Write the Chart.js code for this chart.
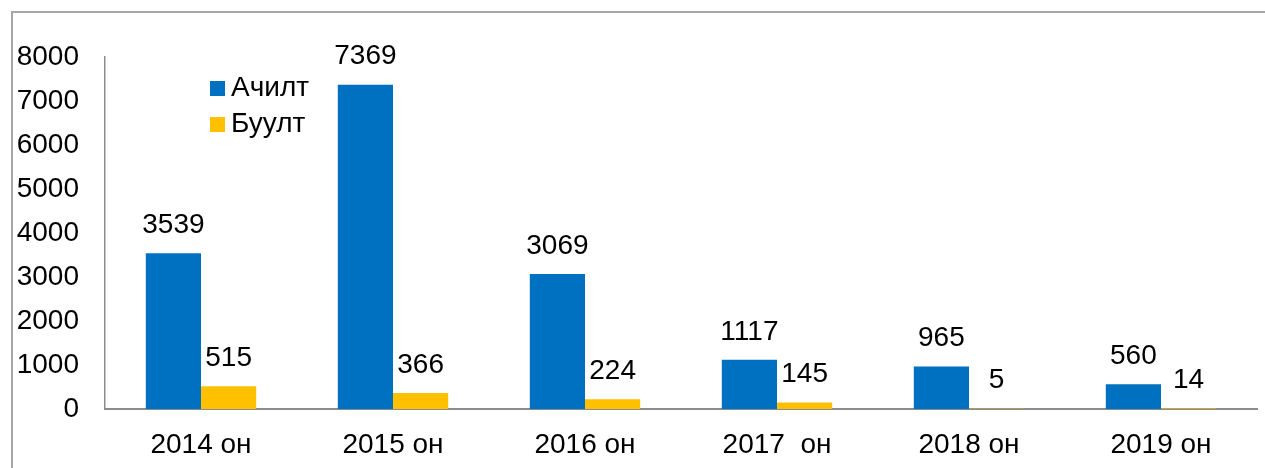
<!DOCTYPE html>
<html>
<head>
<meta charset="utf-8">
<script src="https://cdn.jsdelivr.net/npm/chart.js@4.4.0/dist/chart.umd.min.js"></script>
<style>
  html, body { margin: 0; padding: 0; background: #fff; }
  #wrap { width: 1265px; height: 468px; }
</style>
</head>
<body>
<div id="wrap"><canvas id="c" width="1265" height="468"></canvas></div>
<script>
const categories = ["2014 он", "2015 он", "2016 он", "2017  он", "2018 он", "2019 он"];
const achiltValues = [3539, 7369, 3069, 1117, 965, 560];
const buultValues = [515, 366, 224, 145, 5, 14];
const seriesNames = ["Ачилт", "Буулт"];
const seriesColors = ["#0070C0", "#FFC000"];

const FONT = "'Liberation Sans', Arial, sans-serif";
const FONT_SIZE = 28;
const AXIS_GREY = "#8c8c8c";

// frame around the whole chart
const framePlugin = {
  id: "frame",
  beforeDraw(chart) {
    const ctx = chart.ctx;
    ctx.save();
    ctx.strokeStyle = "#a6a6a6";
    ctx.lineWidth = 2;
    ctx.strokeRect(12, 12, 1300, 500);
    ctx.restore();
  },
};

// value labels above each bar
const valueLabels = {
  id: "valueLabels",
  afterDatasetsDraw(chart) {
    const ctx = chart.ctx;
    ctx.save();
    ctx.font = FONT_SIZE + "px " + FONT;
    ctx.fillStyle = "#000";
    ctx.textAlign = "center";
    ctx.textBaseline = "middle";
    chart.data.datasets.forEach((ds, i) => {
      chart.getDatasetMeta(i).data.forEach((bar, j) => {
        ctx.fillText(String(ds.data[j]), bar.x, bar.y - 28);
      });
    });
    ctx.restore();
  },
};

// legend inside the plot, upper left
const insideLegend = {
  id: "insideLegend",
  afterDraw(chart) {
    const ctx = chart.ctx;
    ctx.save();
    ctx.font = FONT_SIZE + "px " + FONT;
    ctx.textBaseline = "middle";
    ctx.textAlign = "left";
    seriesNames.forEach((name, i) => {
      const y = 88 + i * 36;
      ctx.fillStyle = seriesColors[i];
      ctx.fillRect(210, y - 7, 15, 15);
      ctx.fillStyle = "#000";
      ctx.fillText(name, 231, y);
    });
    ctx.restore();
  },
};

new Chart(document.getElementById("c"), {
  type: "bar",
  data: {
    labels: categories,
    datasets: [
      { label: seriesNames[0], data: achiltValues, backgroundColor: seriesColors[0] },
      { label: seriesNames[1], data: buultValues, backgroundColor: seriesColors[1] },
    ],
  },
  plugins: [framePlugin, valueLabels, insideLegend],
  options: {
    responsive: false,
    animation: false,
    layout: { padding: { top: 57, right: 8, left: 0, bottom: 0 } },
    datasets: { bar: { categoryPercentage: 0.575, barPercentage: 1 } },
    plugins: { legend: { display: false }, tooltip: { enabled: false } },
    scales: {
      x: {
        grid: { display: false, drawTicks: false },
        border: { display: true, color: AXIS_GREY, width: 2 },
        ticks: { color: "#000", font: { family: FONT, size: FONT_SIZE }, padding: 19, maxRotation: 0 },
        afterFit(scale) { scale.height = 59; },
      },
      y: {
        min: 0,
        max: 8000,
        grid: { display: false, drawTicks: false },
        border: { display: true, color: AXIS_GREY, width: 1.5 },
        ticks: {
          stepSize: 1000,
          color: "#000",
          font: { family: FONT, size: FONT_SIZE },
          padding: 26,
          callback: (v) => String(v),
        },
        afterFit(scale) { scale.width = 105; },
      },
    },
  },
});
</script>
</body>
</html>
